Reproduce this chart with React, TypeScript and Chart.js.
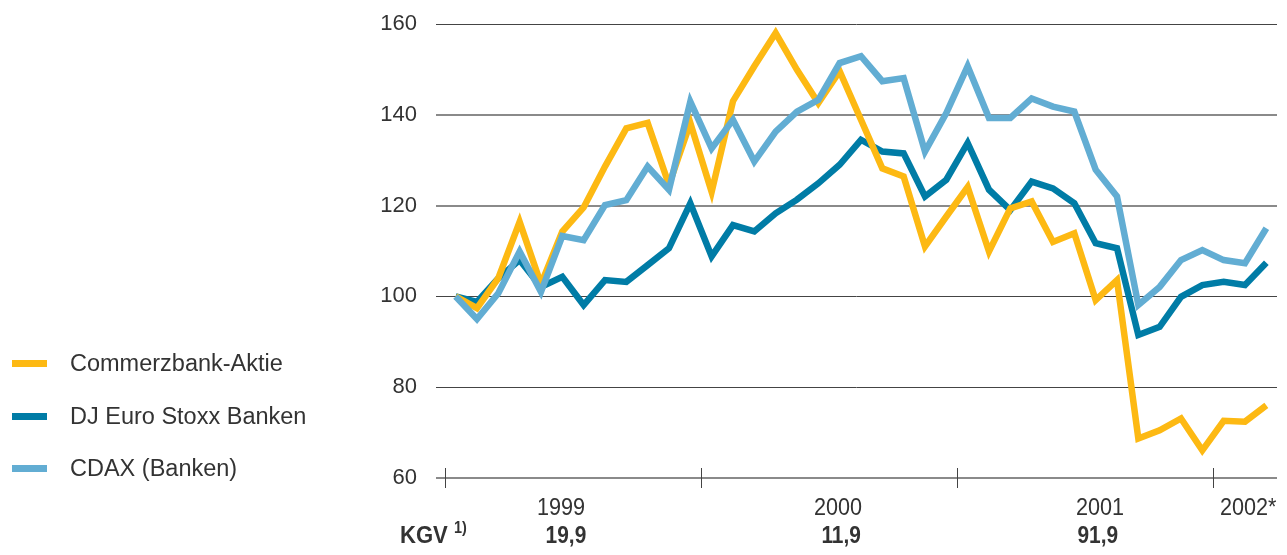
import React, { useEffect, useRef } from "react";
import { Chart, registerables } from "chart.js";
Chart.register(...registerables);

const seriesNames = ["Commerzbank-Aktie", "DJ Euro Stoxx Banken", "CDAX (Banken)"];
const commerzbank = [100, 97.4, 104, 116.4, 102.7, 114.3, 119.6, 128.6, 137, 138.2, 124.6, 138.2, 123, 143, 150.7, 158, 149.9, 142.6, 149.6, 138.9, 128.2, 126.4, 111, 117.6, 124.1, 109.9, 119.4, 120.9, 112, 113.9, 99.2, 103.6, 68.7, 70.5, 73.1, 66.1, 72.6, 72.4, 76];
const djEuroStoxx = [100, 98.8, 104, 108, 102.1, 104.3, 98.1, 103.6, 103.2, 106.9, 110.6, 120.5, 108.8, 115.7, 114.3, 118.3, 121.3, 124.9, 129, 134.5, 131.9, 131.5, 122, 125.7, 133.8, 123.5, 119, 125.3, 123.8, 120.5, 111.7, 110.6, 91.5, 93.3, 99.9, 102.5, 103.2, 102.5, 107.4];
const cdax = [100, 95, 100.7, 109.9, 101, 113.3, 112.4, 120.1, 121.2, 128.6, 123.5, 142.9, 132.6, 138.9, 129.7, 136.3, 140.7, 143.3, 151.4, 152.9, 147.4, 148.1, 131.9, 140.4, 150.7, 139.3, 139.3, 143.6, 141.8, 140.7, 127.9, 122, 98.1, 102.1, 108, 110.2, 108, 107.3, 115];
const yearLabels = ["1999", "2000", "2001", "2002*"];
const kgvLabel = "KGV";
const kgvNote = "1)";
const kgvValues = ["19,9", "11,9", "91,9"];
const yTicks = [60, 80, 100, 120, 140, 160];

const colors = ["#FDB913", "#007CA6", "#62ADD3"];
const TEXT = "#333333";
const FONT = "'Liberation Sans', Arial, sans-serif";

const toPoints = (arr: number[]) => arr.map((v, i) => ({ x: i + 0.5, y: v }));

// month offsets for label placement (layout only)
const yearTickAt = [0, 12, 24, 36];
const yearLabelAt = [5.44, 18.42, 30.7, 36.33];
const kgvAt = [5.67, 18.57, 30.6];

const decor = {
  id: "decor",
  afterDraw(chart: any) {
    const ctx = chart.ctx;
    const xs = chart.scales.x;
    const ys = chart.scales.y;
    const yAxis = ys.getPixelForValue(60);
    ctx.save();
    ctx.strokeStyle = "#444";
    ctx.lineWidth = 1;
    yearTickAt.forEach((m) => {
      const px = Math.round(xs.getPixelForValue(m)) + 0.5;
      ctx.beginPath();
      ctx.moveTo(px, yAxis - 10);
      ctx.lineTo(px, yAxis + 10);
      ctx.stroke();
    });
    ctx.fillStyle = TEXT;
    ctx.textBaseline = "alphabetic";
    ctx.font = `300 24px ${FONT}`;
    yearLabels.forEach((t, i) => {
      const px = xs.getPixelForValue(yearLabelAt[i]);
      ctx.save();
      ctx.translate(px, 515);
      ctx.scale(0.9, 1);
      ctx.textAlign = i === 3 ? "left" : "center";
      ctx.fillText(t, 0, 0);
      ctx.restore();
    });
    ctx.font = `bold 24px ${FONT}`;
    kgvValues.forEach((t, i) => {
      const px = xs.getPixelForValue(kgvAt[i]);
      ctx.save();
      ctx.translate(px, 543);
      ctx.scale(0.87, 1);
      ctx.textAlign = "center";
      ctx.fillText(t, 0, 0);
      ctx.restore();
    });
    ctx.save();
    ctx.translate(400, 543);
    ctx.scale(0.92, 1);
    ctx.textAlign = "left";
    ctx.fillText(kgvLabel, 0, 0);
    ctx.restore();
    ctx.font = `bold 16px ${FONT}`;
    ctx.textAlign = "left";
    ctx.save();
    ctx.translate(454, 533);
    ctx.scale(0.9, 1);
    ctx.fillText(kgvNote, 0, 0);
    ctx.restore();
    ctx.restore();
  },
};

export default function App() {
  const ref = useRef<HTMLCanvasElement | null>(null);
  useEffect(() => {
    if (!ref.current) return;
    const gridColor = (c: any) => {
      const v = c.tick && c.tick.value;
      return v === 120 || v === 140 || v === 60 ? "#8a8a8a" : "#444444";
    };
    const gridWidth = (c: any) => {
      const v = c.tick && c.tick.value;
      return v === 120 || v === 140 || v === 60 ? 2 : 1;
    };
    const chart = new Chart(ref.current, {
      type: "line",
      data: {
        datasets: [
          { label: seriesNames[0], data: toPoints(commerzbank), borderColor: colors[0], backgroundColor: colors[0], order: 1 },
          { label: seriesNames[1], data: toPoints(djEuroStoxx), borderColor: colors[1], backgroundColor: colors[1], order: 2 },
          { label: seriesNames[2], data: toPoints(cdax), borderColor: colors[2], backgroundColor: colors[2], order: 0 },
        ].map((d) => ({ ...d, borderWidth: 6.5, pointRadius: 0, tension: 0, borderJoinStyle: "miter" as const, borderCapStyle: "butt" as const, fill: false })),
      },
      options: {
        animation: false,
        responsive: false,
        devicePixelRatio: 1,
        layout: { padding: { left: 0, right: 10, top: 24, bottom: 77 } },
        plugins: { legend: { display: false }, tooltip: { enabled: false } },
        scales: {
          x: { type: "linear", min: -0.42, max: 39, display: false },
          y: {
            min: 60,
            max: 160,
            afterBuildTicks: (s: any) => { s.ticks = yTicks.map((v) => ({ value: v })); },
            afterFit: (s: any) => { s.width = 436; },
            border: { display: false },
            grid: { color: gridColor, lineWidth: gridWidth, drawTicks: true, tickLength: 19, tickColor: "rgba(0,0,0,0)" },
            ticks: { color: TEXT, padding: 0, font: { family: FONT, size: 22, weight: 300 } },
          },
        },
      },
      plugins: [decor],
    });
    return () => chart.destroy();
  }, []);

  const legendY = [363, 416, 468];
  return (
    <div style={{ position: "fixed", left: 0, top: 0, width: 1287, height: 555, background: "#fff", fontFamily: FONT }}>
      <canvas ref={ref} width={1287} height={555} style={{ position: "absolute", left: 0, top: 0, width: 1287, height: 555 }} />
      {seriesNames.map((n, i) => (
        <div key={n} style={{ position: "absolute", left: 0, top: legendY[i] - 15, height: 30, display: "flex", alignItems: "center" }}>
          <div style={{ marginLeft: 12, width: 35, height: 7, background: colors[i] }} />
          <span style={{ marginLeft: 23, fontSize: 23.5, fontWeight: 300, color: TEXT, whiteSpace: "nowrap" }}>{n}</span>
        </div>
      ))}
    </div>
  );
}
